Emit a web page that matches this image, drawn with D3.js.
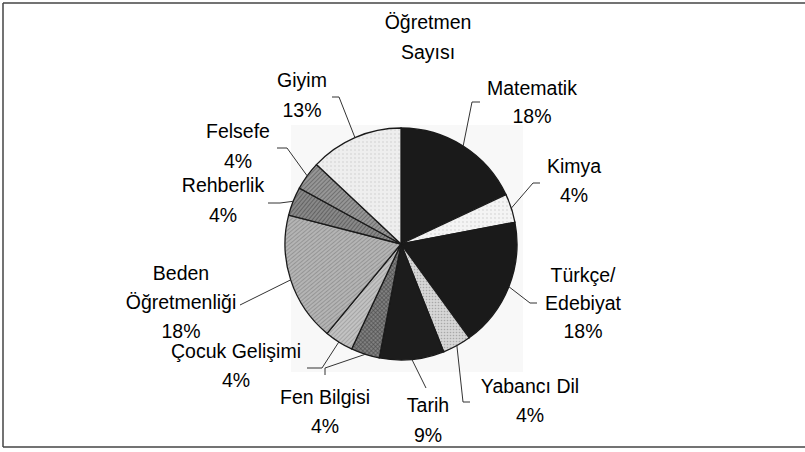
<!DOCTYPE html>
<html>
<head>
<meta charset="utf-8">
<script src="https://cdn.jsdelivr.net/npm/d3@7"></script>
<style>
  body { margin: 0; background: #fff; }
  text { font-family: "Liberation Sans", Arial, sans-serif; font-size: 19.5px; fill: #000; }
</style>
</head>
<body>
<div id="chart"></div>
<script>
// Data
var categories = ["Matematik", "Kimya", "Türkçe/Edebiyat", "Yabancı Dil", "Tarih",
  "Fen Bilgisi", "Çocuk Gelişimi", "Beden Öğretmenliği", "Rehberlik", "Felsefe", "Giyim"];
var percents = [18, 4, 18, 4, 9, 4, 4, 18, 4, 4, 13];
var labelLines = [["Matematik"], ["Kimya"], ["Türkçe/", "Edebiyat"], ["Yabancı Dil"], ["Tarih"],
  ["Fen Bilgisi"], ["Çocuk Gelişimi"], ["Beden", "Öğretmenliği"], ["Rehberlik"], ["Felsefe"], ["Giyim"]];
var titleLines = ["Öğretmen", "Sayısı"];

var svgWidth = 805;
var svgHeight = 452;

var svg = d3.select("#chart")
  .append("svg")
  .attr("width", svgWidth)
  .attr("height", svgHeight);

// patterns for the slices (scanned b/w print look)
var defs = svg.append("defs");

function hatch(id, bg, fg, size, width, angle) {
  var p = defs.append("pattern")
    .attr("id", id)
    .attr("patternUnits", "userSpaceOnUse")
    .attr("width", size).attr("height", size)
    .attr("patternTransform", "rotate(" + angle + ")");
  p.append("rect").attr("width", size).attr("height", size).attr("fill", bg);
  p.append("line").attr("x1", 0).attr("y1", 0).attr("x2", 0).attr("y2", size)
    .attr("stroke", fg).attr("stroke-width", width);
}
function dots(id, bg, fg, size, r) {
  var p = defs.append("pattern")
    .attr("id", id)
    .attr("patternUnits", "userSpaceOnUse")
    .attr("width", size).attr("height", size);
  p.append("rect").attr("width", size).attr("height", size).attr("fill", bg);
  p.append("circle").attr("cx", size / 2).attr("cy", size / 2).attr("r", r).attr("fill", fg);
}
function cross(id, bg, fg, size, width) {
  var p = defs.append("pattern")
    .attr("id", id)
    .attr("patternUnits", "userSpaceOnUse")
    .attr("width", size).attr("height", size)
    .attr("patternTransform", "rotate(45)");
  p.append("rect").attr("width", size).attr("height", size).attr("fill", bg);
  p.append("line").attr("x1", 0).attr("y1", 0).attr("x2", 0).attr("y2", size)
    .attr("stroke", fg).attr("stroke-width", width);
  p.append("line").attr("x1", 0).attr("y1", 0).attr("x2", size).attr("y2", 0)
    .attr("stroke", fg).attr("stroke-width", width);
}

dots("pKimya", "#f4f4f4", "#c8c8c8", 4, 0.7);
dots("pYabanci", "#d6d6d6", "#a8a8a8", 3, 0.8);
cross("pFen", "#808080", "#444444", 3, 1);
hatch("pCocuk", "#c2c2c2", "#888888", 3, 1, 45);
hatch("pBeden", "#b4b4b4", "#767676", 3, 1, 50);
hatch("pRehber", "#888888", "#4a4a4a", 3, 1.2, 40);
hatch("pFelsefe", "#969696", "#565656", 3, 1.2, 45);
dots("pGiyim", "#eeeeee", "#d0d0d0", 4, 0.8);

var fills = ["#1a1a1a", "url(#pKimya)", "#1a1a1a", "url(#pYabanci)", "#1c1c1c",
  "url(#pFen)", "url(#pCocuk)", "url(#pBeden)", "url(#pRehber)", "url(#pFelsefe)", "url(#pGiyim)"];

// label placement (center x, first baseline, line step) and leader elbow / end points
var labelPos = [[532, 95, 28], [574, 173, 29], [583, 282, 28], [530, 393, 29], [428, 412, 30],
  [325, 404, 29], [236, 358, 29], [181, 280, 29], [223, 192, 30], [238, 138, 30], [302, 87, 30]];
var leaderPts = [[[472, 102], [480, 102]], [[533, 183], [540, 183]], [[530, 303], [537, 303]],
  [[463, 402], [470, 402]], [[426, 388], [426, 388]], [[325, 368], [325, 375]],
  [[322, 368], [307, 368]], [[240, 305], [240, 305]], [[280, 203], [268, 203]],
  [[287, 148], [277, 148]], [[339, 97], [332, 97]]];

var cx = 401, cy = 244, radius = 116;

// frame
svg.append("line").attr("x1", 3).attr("y1", 3).attr("x2", 805).attr("y2", 3)
  .attr("stroke", "#444").attr("stroke-width", 1.5);
svg.append("line").attr("x1", 3).attr("y1", 3).attr("x2", 3).attr("y2", 447)
  .attr("stroke", "#444").attr("stroke-width", 1.5);
svg.append("line").attr("x1", 3).attr("y1", 447).attr("x2", 805).attr("y2", 447)
  .attr("stroke", "#444").attr("stroke-width", 1.5);

// plot area
svg.append("rect")
  .attr("x", cx - 110).attr("y", cy - 119)
  .attr("width", 232).attr("height", 247)
  .attr("fill", "#f8f8f8");

// title
svg.append("g").selectAll("text")
  .data(titleLines)
  .enter()
  .append("text")
  .attr("x", 428)
  .attr("y", (d, i) => 29 + i * 30)
  .attr("text-anchor", "middle")
  .text(d => d);

var pie = d3.pie().sort(null).value(d => d);
var arcs = pie(percents);

var arc = d3.arc().innerRadius(0).outerRadius(radius);
var rimArc = d3.arc().innerRadius(radius).outerRadius(radius);

var chartGroup = svg.append("g")
  .attr("transform", `translate(${cx}, ${cy})`);

chartGroup.selectAll(".slice")
  .data(arcs)
  .enter()
  .append("path")
  .attr("class", "slice")
  .attr("d", arc)
  .attr("fill", (d, i) => fills[i])
  .attr("stroke", "#1a1a1a")
  .attr("stroke-width", 1.3);

// leader lines
svg.append("g").selectAll("path")
  .data(arcs)
  .enter()
  .append("path")
  .attr("d", function(d, i) {
    var c = rimArc.centroid(d);
    var p = leaderPts[i];
    return "M" + (cx + c[0]) + "," + (cy + c[1]) + "L" + p[0][0] + "," + p[0][1] + "L" + p[1][0] + "," + p[1][1];
  })
  .attr("fill", "none")
  .attr("stroke", "#333")
  .attr("stroke-width", 1);

// labels
var labels = svg.append("g").selectAll("g")
  .data(arcs)
  .enter()
  .append("g");

labels.each(function(d, i) {
  var lines = labelLines[i].concat([percents[i] + "%"]);
  d3.select(this).selectAll("text")
    .data(lines)
    .enter()
    .append("text")
    .attr("x", labelPos[i][0])
    .attr("y", (t, j) => labelPos[i][1] + j * labelPos[i][2])
    .attr("text-anchor", "middle")
    .text(t => t);
});
</script>
</body>
</html>
